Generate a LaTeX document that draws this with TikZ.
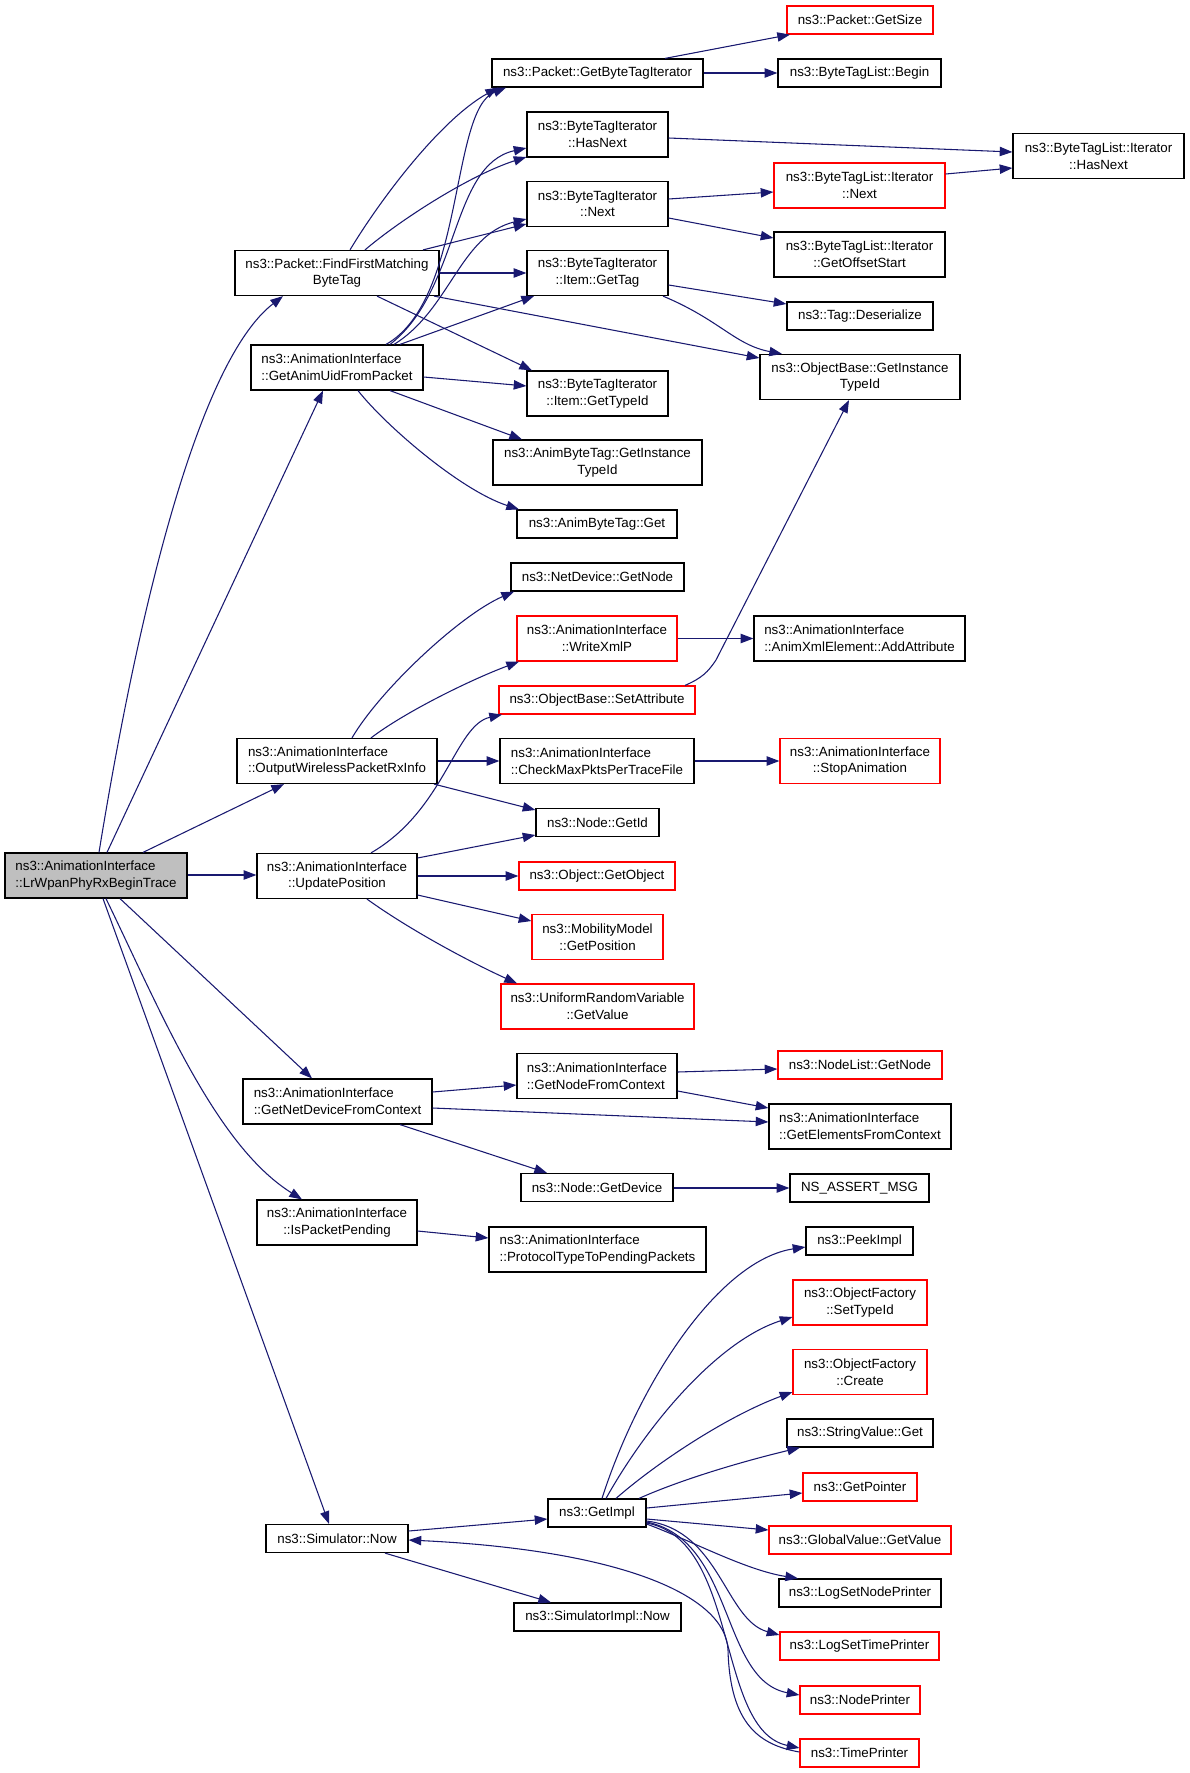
\documentclass[tikz,border=0pt]{standalone}
\usepackage{fontspec}
\setmainfont{Liberation Sans}
\usetikzlibrary{arrows.meta}
\definecolor{edgeblue}{HTML}{191970}
\definecolor{nodegray}{HTML}{BFBFBF}
\definecolor{boxred}{HTML}{FF0000}
\tikzset{
  box/.style={draw=black, line width=0.9pt, fill=white, inner sep=0pt, text=black,
    font=\fontsize{10pt}{12.5pt}\selectfont, align=center},
  redbox/.style={box, draw=boxred},
  sz/.style 2 args={minimum width=#1*0.75pt, minimum height=#2*0.75pt},
  edg/.style={draw=edgeblue, line width=0.8pt, -{Triangle[length=9.5pt,width=7pt]}}
}
\begin{document}
\begin{tikzpicture}[x=0.75pt, y=-0.75pt]
\useasboundingbox (0,0) rectangle (1189,1773);

% column 1
\node[box, sz={182}{45}, fill=nodegray, align=left] (A) at (96,875.5) {ns3::AnimationInterface\\::LrWpanPhyRxBeginTrace};

% column 2
\node[box, sz={204}{45}] (B) at (337,273) {ns3::Packet::FindFirstMatching\\ByteTag};
\node[box, sz={172}{45}, align=left] (C) at (337,367.5) {ns3::AnimationInterface\\::GetAnimUidFromPacket};
\node[box, sz={200}{45}, align=left] (D) at (337,761) {ns3::AnimationInterface\\::OutputWirelessPacketRxInfo};
\node[box, sz={160}{45}] (E) at (337,876) {ns3::AnimationInterface\\::UpdatePosition};
\node[box, sz={189}{45}, align=left] (F) at (337.5,1101.5) {ns3::AnimationInterface\\::GetNetDeviceFromContext};
\node[box, sz={160}{45}] (G) at (337,1222.5) {ns3::AnimationInterface\\::IsPacketPending};
\node[box, sz={142}{28}] (H) at (337,1538.5) {ns3::Simulator::Now};

% column 3
\node[box, sz={211}{28}] (I) at (597.5,73) {ns3::Packet::GetByteTagIterator};
\node[box, sz={141}{45}] (J) at (597.5,134.5) {ns3::ByteTagIterator\\::HasNext};
\node[box, sz={141}{45}] (K) at (597.5,204) {ns3::ByteTagIterator\\::Next};
\node[box, sz={141}{45}] (L) at (597.5,273) {ns3::ByteTagIterator\\::Item::GetTag};
\node[box, sz={141}{45}] (M) at (597.5,393.5) {ns3::ByteTagIterator\\::Item::GetTypeId};
\node[box, sz={209}{45}] (N) at (597.5,462.5) {ns3::AnimByteTag::GetInstance\\TypeId};
\node[box, sz={160}{28}] (V) at (597,524) {ns3::AnimByteTag::Get};
\node[box, sz={173}{28}] (W) at (597.5,577) {ns3::NetDevice::GetNode};
\node[redbox, sz={160}{45}] (X) at (597,638.5) {ns3::AnimationInterface\\::WriteXmlP};
\node[redbox, sz={196}{28}] (Y) at (597,700) {ns3::ObjectBase::SetAttribute};
\node[box, sz={194}{45}, align=left] (Z) at (597,761) {ns3::AnimationInterface\\::CheckMaxPktsPerTraceFile};
\node[box, sz={123}{28}] (AA) at (597.5,822.5) {ns3::Node::GetId};
\node[redbox, sz={156}{28}] (AB) at (597,876) {ns3::Object::GetObject};
\node[redbox, sz={131}{45}] (AE) at (597.5,937) {ns3::MobilityModel\\::GetPosition};
\node[redbox, sz={193}{45}] (AF) at (597.5,1006.5) {ns3::UniformRandomVariable\\::GetValue};
\node[box, sz={160}{45}, align=left] (AG) at (597,1076) {ns3::AnimationInterface\\::GetNodeFromContext};
\node[box, sz={152}{28}] (AH) at (597,1187.5) {ns3::Node::GetDevice};
\node[box, sz={217}{45}, align=left] (AI) at (597.5,1249.5) {ns3::AnimationInterface\\::ProtocolTypeToPendingPackets};
\node[box, sz={98}{28}] (AO) at (597,1513) {ns3::GetImpl};
\node[box, sz={167}{28}] (AP) at (597.5,1617) {ns3::SimulatorImpl::Now};

% column 4
\node[redbox, sz={146}{28}] (O) at (860,20) {ns3::Packet::GetSize};
\node[box, sz={163}{28}] (P) at (859.5,73) {ns3::ByteTagList::Begin};
\node[redbox, sz={171}{45}] (R) at (859.5,185.5) {ns3::ByteTagList::Iterator\\::Next};
\node[box, sz={171}{45}] (S) at (859.5,254.5) {ns3::ByteTagList::Iterator\\::GetOffsetStart};
\node[box, sz={146}{28}] (T) at (860,316) {ns3::Tag::Deserialize};
\node[box, sz={200}{45}] (U) at (860,377) {ns3::ObjectBase::GetInstance\\TypeId};
\node[box, sz={211}{45}, align=left] (AC) at (859.5,638.5) {ns3::AnimationInterface\\::AnimXmlElement::AddAttribute};
\node[redbox, sz={160}{45}] (AD) at (860,761) {ns3::AnimationInterface\\::StopAnimation};
\node[redbox, sz={164}{28}] (AJ) at (860,1065) {ns3::NodeList::GetNode};
\node[box, sz={182}{45}, align=left] (AK) at (860,1126.5) {ns3::AnimationInterface\\::GetElementsFromContext};
\node[box, sz={139}{28}] (AL) at (859.5,1188) {NS\_ASSERT\_MSG};
\node[box, sz={107}{28}] (AM) at (859.5,1241) {ns3::PeekImpl};
\node[redbox, sz={134}{45}] (AN) at (860,1302.5) {ns3::ObjectFactory\\::SetTypeId};
\node[redbox, sz={134}{45}] (AQ) at (860,1372) {ns3::ObjectFactory\\::Create};
\node[box, sz={146}{28}] (AR) at (860,1433) {ns3::StringValue::Get};
\node[redbox, sz={114}{28}] (AS) at (860,1487) {ns3::GetPointer};
\node[redbox, sz={182}{28}] (AT) at (860,1540) {ns3::GlobalValue::GetValue};
\node[box, sz={162}{28}] (AU) at (860,1593) {ns3::LogSetNodePrinter};
\node[redbox, sz={159}{28}] (AV) at (859.5,1646) {ns3::LogSetTimePrinter};
\node[redbox, sz={120}{28}] (AW) at (860,1700) {ns3::NodePrinter};
\node[redbox, sz={119}{28}] (AX) at (859.5,1753) {ns3::TimePrinter};

% column 5
\node[box, sz={171}{45}] (Q) at (1098.5,156) {ns3::ByteTagList::Iterator\\::HasNext};

% edges from A
\draw[edg] (A.north -| 99,0) .. controls (140,600) and (200,360) .. (B.south -| 283,0);
\draw[edg] (A.north -| 107,0) -- (C.south -| 323,0);
\draw[edg] (A.north -| 143,0) -- (D.south -| 284,0);
\draw[edg] (A.east |- 0,875) -- (E.west |- 0,875);
\draw[edg] (A.south -| 120,0) -- (F.north -| 312,0);
\draw[edg] (A.south -| 106,0) .. controls (160,1010) and (215,1145) .. (G.north -| 302,0);
\draw[edg] (A.south -| 103,0) -- (H.north -| 329,0);

% edges from B
\draw[edg] (B.north -| 350,0) .. controls (380,200) and (440,120) .. (I.south -| 498,0);
\draw[edg] (B.north -| 365,0) .. controls (400,220) and (470,175) .. (J.west |- 0,157);
\draw[edg] (B.north -| 423,0) -- (K.west |- 0,224);
\draw[edg] (B.east |- 0,273) -- (L.west |- 0,273);
\draw[edg] (B.south -| 434,0) -- (U.west |- 0,358);
\draw[edg] (B.south -| 377,0) -- (M.north -| 532,0);

% edges from C
\draw[edg] (C.north -| 386,0) .. controls (465,300) and (450,110) .. (I.south -| 506,0);
\draw[edg] (C.north -| 390,0) .. controls (460,290) and (450,165) .. (J.west |- 0,148);
\draw[edg] (C.north -| 394,0) .. controls (450,310) and (460,235) .. (K.west |- 0,219);
\draw[edg] (C.north -| 400,0) -- (L.south -| 534,0);
\draw[edg] (C.east |- 0,377) -- (M.west |- 0,386);
\draw[edg] (C.south -| 390,0) -- (N.north -| 522,0);
\draw[edg] (C.south -| 358,0) .. controls (385,425) and (460,490) .. (V.north -| 519,0);

% column 3 -> column 4/5
\draw[edg] (I.north -| 665,0) -- (O.south -| 790,0);
\draw[edg] (I.east |- 0,73) -- (P.west |- 0,73);
\draw[edg] (J.east |- 0,138) -- (Q.west |- 0,152);
\draw[edg] (K.east |- 0,199) -- (R.west |- 0,192);
\draw[edg] (K.east |- 0,218) -- (S.west |- 0,238);
\draw[edg] (R.east |- 0,174) -- (Q.west |- 0,168);
\draw[edg] (L.east |- 0,285) -- (T.west |- 0,304);
\draw[edg] (L.south -| 663,0) .. controls (720,320) and (735,345) .. (U.north -| 782,0);

% edges from D
\draw[edg] (D.north -| 352,0) .. controls (380,690) and (460,615) .. (W.south -| 514,0);
\draw[edg] (D.north -| 371,0) .. controls (405,712) and (470,680) .. (X.south -| 519,0);
\draw[edg] (D.east |- 0,761) -- (Z.west |- 0,761);
\draw[edg] (D.south -| 434,0) -- (AA.west |- 0,810);

% edges from E
\draw[edg] (E.north -| 371,0) .. controls (445,810) and (455,725) .. (Y.south -| 502,0);
\draw[edg] (E.east |- 0,858) -- (AA.west |- 0,835);
\draw[edg] (E.east |- 0,876) -- (AB.west |- 0,876);
\draw[edg] (E.east |- 0,895) -- (AE.west |- 0,921);
\draw[edg] (E.south -| 367,0) .. controls (410,930) and (470,962) .. (AF.north -| 517,0);

\draw[edg] (X.east |- 0,638.5) -- (AC.west |- 0,638.5);
\draw[edg] (Y.north -| 685,0) .. controls (702,678) and (708,672) .. (716,660) -- (U.south -| 849,0);
\draw[edg] (Z.east |- 0,761) -- (AD.west |- 0,761);

% edges from F
\draw[edg] (F.east |- 0,1092) -- (AG.west |- 0,1085);
\draw[edg] (F.east |- 0,1108) -- (AK.west |- 0,1122);
\draw[edg] (F.south -| 400,0) -- (AH.north -| 547,0);
\draw[edg] (AG.east |- 0,1072) -- (AJ.west |- 0,1069);
\draw[edg] (AG.east |- 0,1091) -- (AK.west |- 0,1108);
\draw[edg] (AH.east |- 0,1188) -- (AL.west |- 0,1188);

% G
\draw[edg] (G.east |- 0,1231) -- (AI.west |- 0,1238);

% H
\draw[edg] (H.east |- 0,1531) -- (AO.west |- 0,1519);
\draw[edg] (H.south -| 385,0) -- (AP.north -| 551,0);

% GetImpl
\draw[edg] (AO.north -| 602,0) .. controls (640,1380) and (720,1260) .. (AM.west |- 0,1247);
\draw[edg] (AO.north -| 606,0) .. controls (650,1420) and (720,1340) .. (AN.west |- 0,1317);
\draw[edg] (AO.north -| 616,0) .. controls (660,1460) and (730,1415) .. (AQ.west |- 0,1392);
\draw[edg] (AO.north -| 639,0) .. controls (680,1480) and (740,1462) .. (AR.south -| 800,0);
\draw[edg] (AO.east |- 0,1508) -- (AS.west |- 0,1493);
\draw[edg] (AO.east |- 0,1519) -- (AT.west |- 0,1530);
\draw[edg] (AO.east |- 0,1524) .. controls (690,1540) and (745,1570) .. (AU.north -| 798,0);
\draw[edg] (AO.east |- 0,1521) .. controls (720,1530) and (725,1620) .. (AV.west |- 0,1635);
\draw[edg] (AO.east |- 0,1522) .. controls (735,1540) and (720,1680) .. (AW.west |- 0,1695);
\draw[edg] (AO.east |- 0,1523) .. controls (740,1540) and (715,1730) .. (AX.west |- 0,1748);

% TimePrinter -> Simulator::Now
\draw[edg] (AX.west |- 0,1752) .. controls (760,1745) and (730,1725) .. (728,1650)
  .. controls (726,1595) and (620,1550) .. (H.east |- 0,1540);
\end{tikzpicture}
\end{document}
